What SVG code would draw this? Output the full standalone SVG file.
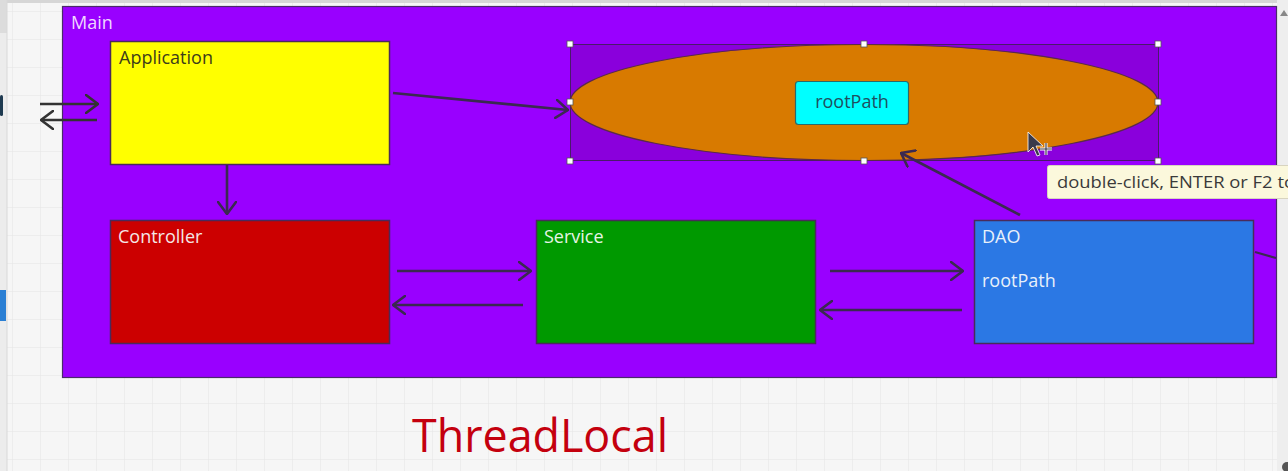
<svg xmlns="http://www.w3.org/2000/svg" width="1288" height="471" viewBox="0 0 1288 471">
  <defs>
    <pattern id="grid" x="12" y="11" width="28" height="28" patternUnits="userSpaceOnUse">
      <path d="M28,0 L0,0 L0,28" fill="none" stroke="#e4e4e4" stroke-width="1"/>
    </pattern>
    <marker id="arr" viewBox="0 0 14 20" refX="13" refY="10" markerWidth="14" markerHeight="20" markerUnits="userSpaceOnUse" orient="auto">
      <path d="M1,1 L13,10 L1,19" fill="none" stroke="#3b2950" stroke-width="2.6" stroke-linecap="round" stroke-linejoin="round"/>
    </marker>
    <marker id="arrG" viewBox="0 0 14 20" refX="13" refY="10" markerWidth="14" markerHeight="20" markerUnits="userSpaceOnUse" orient="auto">
      <path d="M1,1 L13,10 L1,19" fill="none" stroke="#333333" stroke-width="2.6" stroke-linecap="round" stroke-linejoin="round"/>
    </marker>
  </defs>
  <style>
    .lbl { font-family: "Open Sans", "Liberation Sans", sans-serif; font-size: 18px; }
    .box { stroke: #4a2a5a; stroke-width: 1.5; }
    .conn { stroke: #3b2950; stroke-width: 2.6; fill: none; marker-end: url(#arr); }
    .connG { stroke: #333333; stroke-width: 2.6; fill: none; marker-end: url(#arrG); }
    .handle { fill: #ffffff; stroke: #555555; stroke-width: 0.8; }
  </style>

  <!-- canvas background -->
  <rect x="0" y="0" width="1288" height="471" fill="#f6f6f6"/>
  <rect x="7" y="0" width="1270" height="471" fill="url(#grid)"/>
  <rect x="0" y="0" width="1288" height="3" fill="#d6d6d6"/>
  <rect x="0" y="0" width="7" height="471" fill="#ececec"/>
  <rect x="0" y="0" width="7" height="33" fill="#dcdcdc"/>
  <line x1="7" y1="0" x2="7" y2="471" stroke="#d8d8d8" stroke-width="1"/>
  <rect x="0" y="95" width="3" height="21" rx="1.5" fill="#1e3a50"/>
  <rect x="0" y="290" width="6" height="31" fill="#2a7fd4"/>
  <rect x="1277" y="0" width="11" height="471" fill="#eeeeee"/>
  <path d="M1280,16 L1284,10 L1288,16 Z" fill="#888888"/>
  <circle cx="1287" cy="467" r="5" fill="#555555"/>

  <!-- Main container -->
  <g id="main">
    <rect x="62.5" y="6.5" width="1214" height="371" fill="#9900ff" stroke="#4a2a6a" stroke-width="1.2"/>
    <text x="71" y="29" class="lbl" font-size="17" fill="#f0d8ff">Main</text>
  </g>

  <!-- Application -->
  <g id="application">
    <rect x="110.5" y="41.5" width="279" height="123" fill="#ffff00" class="box"/>
    <text x="119" y="64" class="lbl" fill="#3d3d1a">Application</text>
  </g>

  <!-- ellipse with selection -->
  <g id="ellipse">
    <rect x="570.5" y="44.5" width="588" height="116" fill="#8a00dc" stroke="#4a1a6a" stroke-width="1"/>
    <ellipse cx="864" cy="102.5" rx="294" ry="58" fill="#d87a00" stroke="#5a2a4a" stroke-width="1.2"/>
  </g>

  <!-- rootPath inner -->
  <g id="rootPathBox">
    <rect x="795.5" y="81.5" width="113" height="43" rx="3" fill="#00ffff" stroke="#2a6a6a" stroke-width="1.2"/>
    <text x="852" y="108" class="lbl" text-anchor="middle" fill="#1f4f5f">rootPath</text>
  </g>

  <!-- Controller -->
  <g id="controller">
    <rect x="110.5" y="220.5" width="279" height="123" fill="#cc0000" class="box"/>
    <text x="118" y="243" class="lbl" fill="#f4e6e6">Controller</text>
  </g>

  <!-- Service -->
  <g id="service">
    <rect x="536.5" y="220.5" width="279" height="123" fill="#009900" class="box"/>
    <text x="544" y="243" class="lbl" fill="#e6f4e6">Service</text>
  </g>

  <!-- DAO -->
  <g id="dao">
    <rect x="974.5" y="220.5" width="279" height="123" fill="#2b78e4" class="box"/>
    <text x="982" y="243" class="lbl" fill="#e8f0fa">DAO</text>
    <text x="982" y="287" class="lbl" fill="#e8f0fa">rootPath</text>
  </g>

  <!-- connectors -->
  <g id="connectors">
    <line x1="40" y1="104" x2="98" y2="104" class="connG"/>
    <line x1="97" y1="120" x2="41" y2="120" class="connG"/>
    <line x1="393" y1="93" x2="568" y2="110" class="conn"/>
    <line x1="227" y1="165" x2="227" y2="214" class="conn"/>
    <line x1="397" y1="271" x2="531" y2="271" class="conn"/>
    <line x1="523" y1="305" x2="393" y2="305" class="conn"/>
    <line x1="830" y1="271" x2="963" y2="271" class="conn"/>
    <line x1="962" y1="310" x2="820" y2="310" class="conn"/>
    <line x1="1020" y1="215" x2="901" y2="153" class="conn"/>
    <line x1="1255" y1="252" x2="1276" y2="258" stroke="#3b2950" stroke-width="2.2"/>
  </g>

  <!-- selection handles -->
  <g id="handles">
    <rect x="567" y="41" width="6" height="6" class="handle"/>
    <rect x="861" y="41" width="6" height="6" class="handle"/>
    <rect x="1155" y="41" width="6" height="6" class="handle"/>
    <rect x="567" y="99" width="6" height="6" class="handle"/>
    <rect x="1155" y="99" width="6" height="6" class="handle"/>
    <rect x="567" y="158" width="6" height="6" class="handle"/>
    <rect x="861" y="158" width="6" height="6" class="handle"/>
    <rect x="1155" y="158" width="6" height="6" class="handle"/>
  </g>

  <!-- cursor -->
  <g id="cursor">
    <path d="M1028,132 L1028,152 L1033,147 L1037,156 L1040,155 L1036,146 L1043,146 Z" fill="#3a3a4a" stroke="#ffffff" stroke-width="0.8"/>
    <path d="M1046,143 L1046,155 M1040,149 L1052,149" stroke="#ffffff" stroke-width="3"/>
    <path d="M1046,143 L1046,155 M1040,149 L1052,149" stroke="#3a3a4a" stroke-width="1.2"/>
  </g>

  <!-- tooltip -->
  <g id="tooltip">
    <rect x="1047.5" y="165.5" width="245" height="33" rx="2" fill="#fbf8dc" stroke="#d8d4c0" stroke-width="1"/>
    <text x="1057" y="188" font-family="Open Sans, Liberation Sans, sans-serif" font-size="16.5" fill="#3a3a3a" textLength="238" lengthAdjust="spacingAndGlyphs">double-click, ENTER or F2 to</text>
  </g>

  <!-- ThreadLocal caption -->
  <text x="412" y="452" font-family="Open Sans, Liberation Sans, sans-serif" font-size="46" fill="#c4000e" textLength="256" lengthAdjust="spacingAndGlyphs">ThreadLocal</text>
</svg>
